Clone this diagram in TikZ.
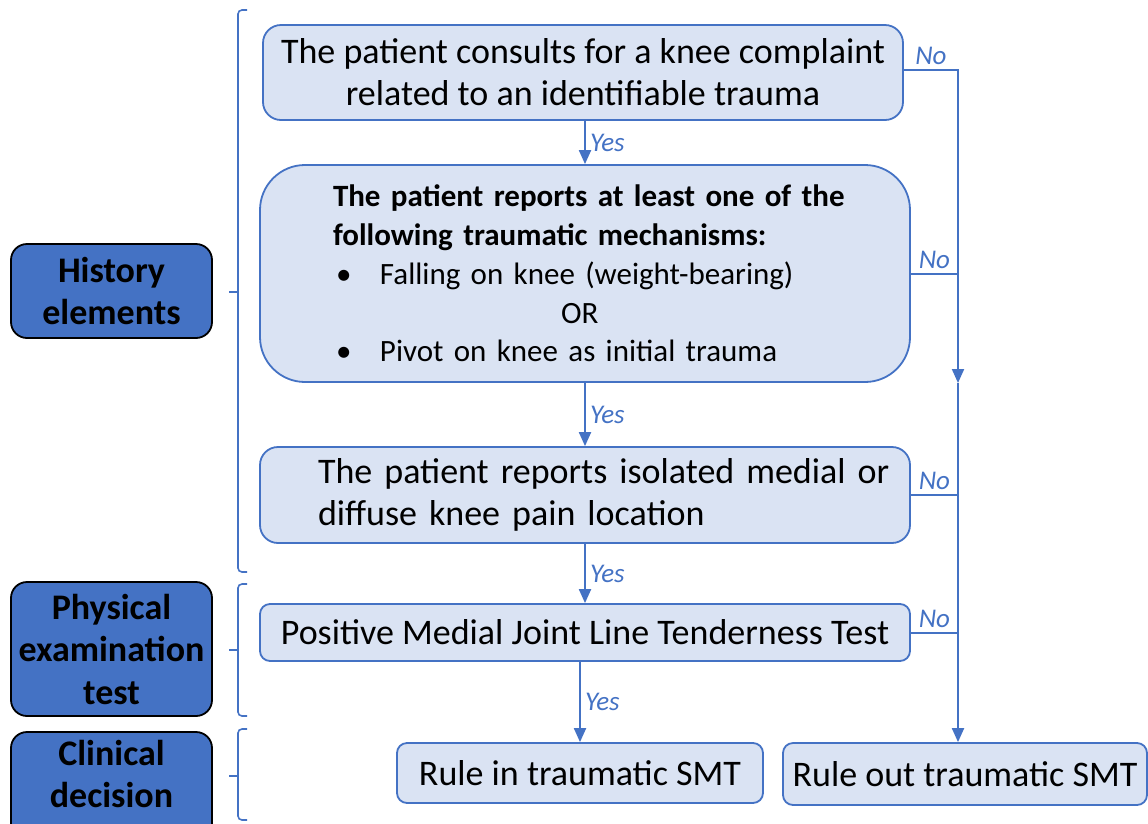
\documentclass[tikz,border=0pt]{standalone}
\usepackage{fontspec}
\setmainfont{Carlito}
\usetikzlibrary{arrows.meta}
\definecolor{boxfill}{HTML}{DAE3F3}
\definecolor{boxline}{HTML}{4472C4}

\begin{document}
\begin{tikzpicture}[x=1pt,y=-1pt,>={Triangle[width=12pt,length=14pt]},
    qbox/.style={rectangle,rounded corners=18pt,draw=boxline,fill=boxfill,line width=1.8pt,inner sep=0pt,font=\fontsize{36}{42}\selectfont},
    side node/.style={rectangle,rounded corners=16pt,draw=black,fill=boxline,line width=1.8pt,minimum width=201pt,inner sep=0pt},
    side text/.style={align=center,font=\bfseries\fontsize{36}{42.5}\selectfont},
    answer/.style={font=\itshape\fontsize{27}{27}\selectfont,inner sep=4pt},
    flow/.style={->,color=boxline,line width=2pt},
    brace/.style={draw=boxline,line width=1.6pt,rounded corners=4pt}]
            \useasboundingbox (0,0) rectangle (1148,823);

            % questions
            \node[qbox,minimum width=640pt,minimum height=95pt,align=center] (trauma) at (583,72.5) {The patient consults for a knee complaint\\related to an identifiable trauma};
            \node[qbox,rounded corners=45pt,minimum width=650pt,minimum height=217pt,text width=600pt,align=left,font=\fontsize{31}{38.8}\selectfont] (mech) at (585,273.5)
                {\hspace*{48pt}\textbf{The patient reports at least one of the}\\
                \hspace*{48pt}\textbf{following traumatic mechanisms:}\\
                \hspace*{48pt}\makebox[47pt][l]{\hspace*{3pt}•}Falling on knee (weight-bearing)\\
                \hspace*{276pt}OR\\
                \hspace*{48pt}\makebox[47pt][l]{\hspace*{3pt}•}Pivot on knee as initial trauma};
            \node[qbox,minimum width=650pt,minimum height=96pt,text width=640pt,align=left] (pain) at (585,495)
                {\hspace*{53pt}The patient reports isolated medial or\\
                \hspace*{53pt}diffuse knee pain location};
            \node[qbox,rounded corners=10pt,minimum width=650pt,minimum height=57pt] (tender) at (585,632.5) {Positive Medial Joint Line Tenderness Test};

            % decisions
            \node[qbox,rounded corners=10pt,minimum width=366pt,minimum height=60pt] (rulein) at (580,773) {Rule in traumatic SMT};
            \node[qbox,rounded corners=10pt,minimum width=364pt,minimum height=62pt] (ruleout) at (965,774) {Rule out traumatic SMT};

            % left column
            \node[side node,minimum height=94pt,side text] (hist) at (111.5,291) {History\\elements};
            \node[side node,minimum height=134pt,side text] (phys) at (111.5,649) {Physical\\examination\\test};
            \node[side node,minimum height=110pt] (clin) at (111.5,787) {};
            \node[side text] (clintext) at (111.5,774) {Clinical\\decision};

            \foreach \top/\mid/\bot in {10/292/572, 584/650/716, 729/776/820}{
                \draw[brace] (247,\top) -- (238,\top) -- (238,\bot) -- (247,\bot);
                \draw[brace] (238,\mid) -- (229,\mid);
            }

            % yes
            \path[flow]
                (trauma.south -| mech.north) edge node[answer,right] {Yes} (mech.north)
                (mech.south) edge node[answer,right] {Yes} (pain.north)
                (pain.south) edge node[answer,right] {Yes} (tender.north)
                (tender.south -| rulein.north) edge node[answer,right] {Yes} (rulein.north)
                ;

            % no
            \coordinate (rail) at (958,70);
            \coordinate (railarrow) at (958,383);
            \draw[flow] (trauma.east |- rail) -- node[answer,above] {No} (rail) -- (railarrow);
            \draw[flow] (railarrow) -- (railarrow |- ruleout.north);
            \draw[flow,-] (mech.east) -- node[answer,above] {No} (mech.east -| rail);
            \draw[flow,-] (pain.east) -- node[answer,above] {No} (pain.east -| rail);
            \draw[flow,-] (tender.east) -- node[answer,above] {No} (tender.east -| rail);
        \end{tikzpicture}
\end{document}
